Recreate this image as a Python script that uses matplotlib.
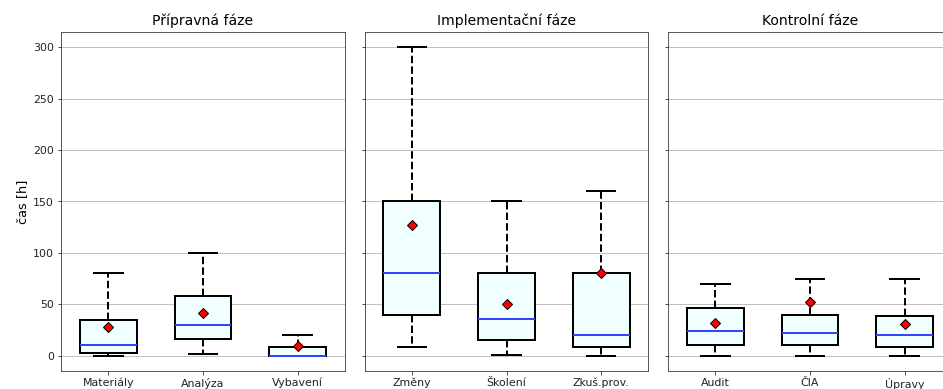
import matplotlib
matplotlib.use("Agg")
import matplotlib.pyplot as plt

# hodnoty: (dolni vous, Q1, median, Q3, horni vous, prumer)
phases = ["Přípravná fáze", "Implementační fáze", "Kontrolní fáze"]

prep_labels = ["Materiály", "Analýza", "Vybavení"]
prep_low = [0, 2, 0]
prep_q1 = [3, 16, 0]
prep_med = [10, 30, 0]
prep_q3 = [35, 58, 8]
prep_high = [80, 100, 20]
prep_mean = [28, 41, 9]

impl_labels = ["Změny", "Školení", "Zkuš.prov."]
impl_low = [8, 1, 0]
impl_q1 = [40, 15, 8]
impl_med = [80, 36, 20]
impl_q3 = [150, 80, 80]
impl_high = [300, 150, 160]
impl_mean = [127, 50, 80]

ctrl_labels = ["Audit", "ČIA", "Úpravy"]
ctrl_low = [0, 0, 0]
ctrl_q1 = [10, 10, 8]
ctrl_med = [24, 22, 20]
ctrl_q3 = [46, 40, 39]
ctrl_high = [70, 75, 75]
ctrl_mean = [32, 52, 31]


def make_stats(labels, low, q1, med, q3, high, mean):
    stats = []
    for i in range(len(labels)):
        stats.append(dict(label=labels[i], whislo=low[i], q1=q1[i], med=med[i],
                          q3=q3[i], whishi=high[i], mean=mean[i], fliers=[]))
    return stats


groups = [
    make_stats(prep_labels, prep_low, prep_q1, prep_med, prep_q3, prep_high, prep_mean),
    make_stats(impl_labels, impl_low, impl_q1, impl_med, impl_q3, impl_high, impl_mean),
    make_stats(ctrl_labels, ctrl_low, ctrl_q1, ctrl_med, ctrl_q3, ctrl_high, ctrl_mean),
]

fig, axs = plt.subplots(ncols=3, sharey=True, figsize=(943 / 72, 389 / 72), dpi=72)
W, H = 943, 389
fig.subplots_adjust(left=61 / W, right=952 / W, top=1 - 32 / H, bottom=1 - 371 / H, wspace=0.069)

for ax, stats, title in zip(axs, groups, phases):
    ax.bxp(stats, showmeans=True, patch_artist=True, widths=0.6,
           boxprops=dict(facecolor="azure", edgecolor="black", linewidth=2),
           medianprops=dict(color="#3344ff", linewidth=2),
           whiskerprops=dict(color="black", linewidth=2, linestyle="--"),
           capprops=dict(color="black", linewidth=2),
           meanprops=dict(marker="D", markerfacecolor="red", markeredgecolor="black", markersize=7))
    ax.set_title(title, fontsize=14, pad=7)
    ax.yaxis.grid(True, color="#c0c0c0", linewidth=1)
    ax.set_axisbelow(True)
    ax.tick_params(labelsize=11, colors="#222222")
    for s in ax.spines.values():
        s.set_color("#333333")

axs[0].set_ylim(-15, 315)
axs[0].set_ylabel("čas [h]", fontsize=13)

fig.savefig("out.png", dpi=72)
